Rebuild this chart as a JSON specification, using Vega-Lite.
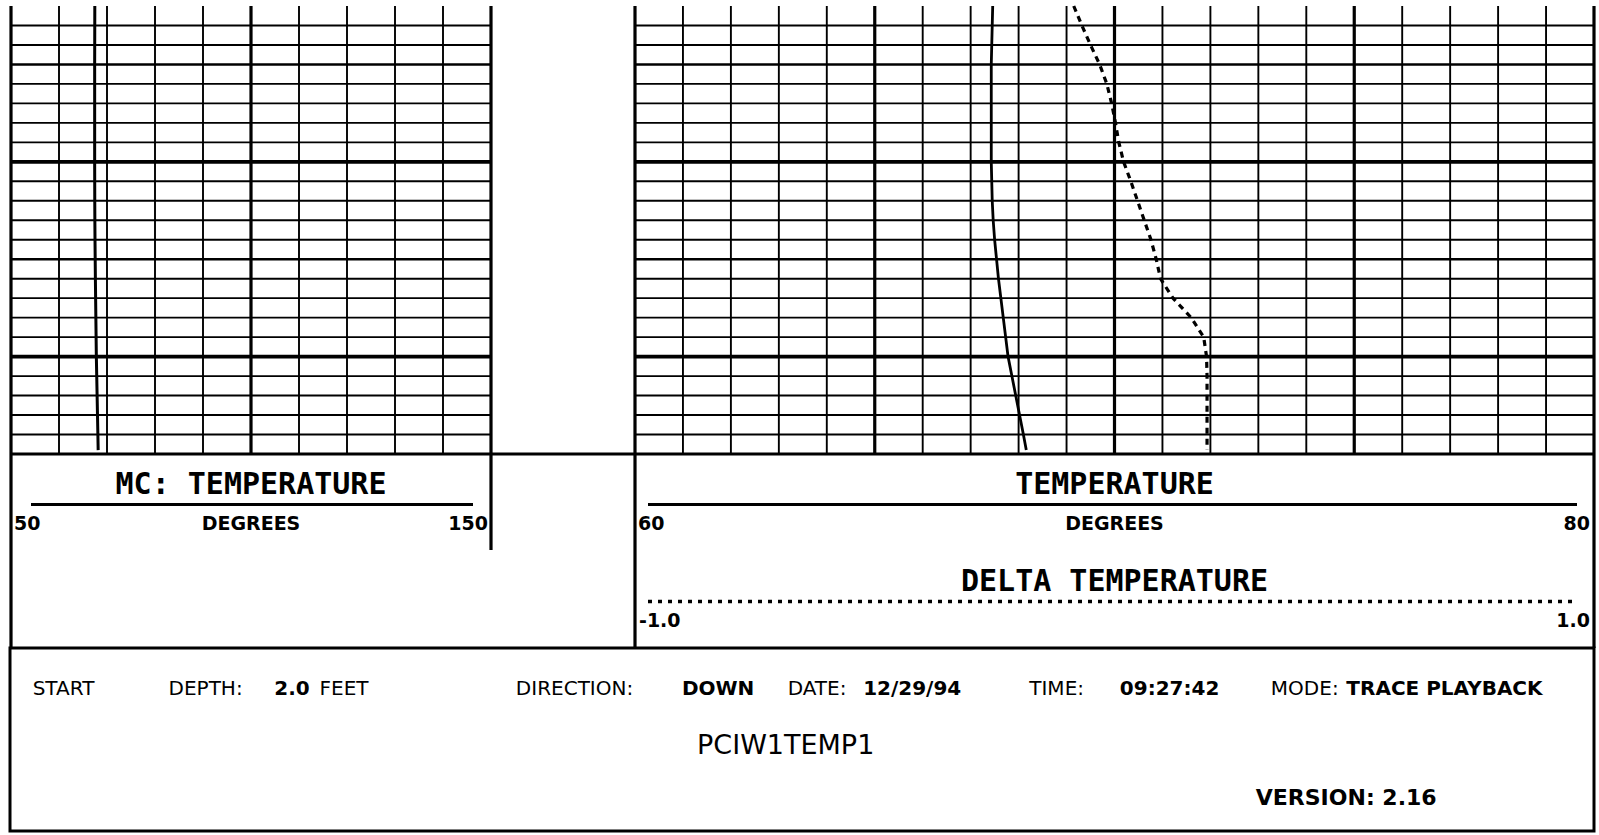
{
  "$schema": "https://vega.github.io/schema/vega-lite/v6.json",
  "width": 1599,
  "height": 835,
  "padding": 0,
  "autosize": {"type": "none"},
  "background": "white",
  "config": {
    "view": {"stroke": null},
    "axis": {"disable": true},
    "legend": {"disable": true},
    "font": "DejaVu Sans"
  },
  "datasets": {
    "log": [
      {"depth": 2.0, "temp": 67.46, "delta": -0.085},
      {"depth": 3, "temp": 67.45, "delta": -0.068},
      {"depth": 4, "temp": 67.44, "delta": -0.05},
      {"depth": 5, "temp": 67.43, "delta": -0.031},
      {"depth": 6, "temp": 67.43, "delta": -0.016},
      {"depth": 7, "temp": 67.43, "delta": -0.006},
      {"depth": 8, "temp": 67.43, "delta": 0.002},
      {"depth": 9, "temp": 67.43, "delta": 0.009},
      {"depth": 10, "temp": 67.43, "delta": 0.019},
      {"depth": 11, "temp": 67.44, "delta": 0.034},
      {"depth": 12, "temp": 67.45, "delta": 0.048},
      {"depth": 13, "temp": 67.47, "delta": 0.062},
      {"depth": 14, "temp": 67.5, "delta": 0.076},
      {"depth": 15, "temp": 67.54, "delta": 0.087},
      {"depth": 16, "temp": 67.58, "delta": 0.096},
      {"depth": 17, "temp": 67.63, "delta": 0.122},
      {"depth": 18, "temp": 67.68, "delta": 0.16},
      {"depth": 19, "temp": 67.73, "delta": 0.186},
      {"depth": 20, "temp": 67.78, "delta": 0.192},
      {"depth": 21, "temp": 67.86, "delta": 0.193},
      {"depth": 22, "temp": 67.94, "delta": 0.193},
      {"depth": 23, "temp": 68.02, "delta": 0.193},
      {"depth": 24, "temp": 68.1, "delta": 0.193},
      {"depth": 24.8, "temp": 68.16, "delta": 0.193}
    ],
    "depthLines": [
      {"depth": 3}, {"depth": 4}, {"depth": 5}, {"depth": 6}, {"depth": 7}, {"depth": 8},
      {"depth": 9}, {"depth": 10}, {"depth": 11}, {"depth": 12}, {"depth": 13}, {"depth": 14},
      {"depth": 15}, {"depth": 16}, {"depth": 17}, {"depth": 18}, {"depth": 19}, {"depth": 20},
      {"depth": 21}, {"depth": 22}, {"depth": 23}, {"depth": 24}, {"depth": 25}
    ],
    "mcLines": [
      {"deg": 50}, {"deg": 60}, {"deg": 70}, {"deg": 80}, {"deg": 90}, {"deg": 100},
      {"deg": 110}, {"deg": 120}, {"deg": 130}, {"deg": 140}, {"deg": 150}
    ],
    "tempLines": [
      {"deg": 60}, {"deg": 61}, {"deg": 62}, {"deg": 63}, {"deg": 64}, {"deg": 65}, {"deg": 66},
      {"deg": 67}, {"deg": 68}, {"deg": 69}, {"deg": 70}, {"deg": 71}, {"deg": 72}, {"deg": 73},
      {"deg": 74}, {"deg": 75}, {"deg": 76}, {"deg": 77}, {"deg": 78}, {"deg": 79}, {"deg": 80}
    ],
    "leftHeader": [
      {"label": "MC: TEMPERATURE", "deg": 100, "line": 1, "role": "title"},
      {"label": "DEGREES", "deg": 100, "line": 3, "role": "units"},
      {"label": "50", "deg": 50, "line": 3, "role": "min"},
      {"label": "150", "deg": 150, "line": 3, "role": "max"}
    ],
    "rightHeader": [
      {"label": "TEMPERATURE", "deg": 70, "line": 1, "role": "title"},
      {"label": "DEGREES", "deg": 70, "line": 3, "role": "units"},
      {"label": "60", "deg": 60, "line": 3, "role": "min"},
      {"label": "80", "deg": 80, "line": 3, "role": "max"}
    ],
    "deltaHeader": [
      {"label": "DELTA TEMPERATURE", "delta": 0, "line": 6, "role": "title"},
      {"label": "-1.0", "delta": -1, "line": 8, "role": "min"},
      {"label": "1.0", "delta": 1, "line": 8, "role": "max"}
    ],
    "infoLabels": [
      {"label": "START", "col": 1, "line": 1},
      {"label": "DEPTH:", "col": 10, "line": 1},
      {"label": "FEET", "col": 20, "line": 1},
      {"label": "DIRECTION:", "col": 33, "line": 1},
      {"label": "DATE:", "col": 51, "line": 1},
      {"label": "TIME:", "col": 67, "line": 1},
      {"label": "MODE:", "col": 83, "line": 1}
    ],
    "infoValues": [
      {"label": "2.0", "col": 17, "line": 1},
      {"label": "DOWN", "col": 44, "line": 1},
      {"label": "12/29/94", "col": 56, "line": 1},
      {"label": "09:27:42", "col": 73, "line": 1},
      {"label": "TRACE PLAYBACK", "col": 88, "line": 1}
    ]
  },
  "resolve": {"scale": {"x": "independent", "y": "independent"}},
  "layer": [
    {
      "data": {"name": "depthLines"},
      "mark": {"type": "rule", "color": "black"},
      "encoding": {
        "y": {"field": "depth", "type": "quantitative", "scale": {"domain": [2, 25], "range": [6, 454], "nice": false, "zero": false}},
        "x": {"datum": 50, "type": "quantitative", "scale": {"domain": [50, 150], "range": [11, 491], "nice": false, "zero": false}},
        "x2": {"datum": 150},
        "strokeWidth": {"condition": [{"test": "datum.depth == 25", "value": 3}, {"test": "datum.depth % 10 == 0", "value": 3.6}, {"test": "datum.depth % 5 == 0", "value": 2.6}], "value": 1.9}
      }
    },
    {
      "data": {"name": "depthLines"},
      "mark": {"type": "rule", "color": "black"},
      "encoding": {
        "y": {"field": "depth", "type": "quantitative", "scale": {"domain": [2, 25], "range": [6, 454], "nice": false, "zero": false}},
        "x": {"datum": 60, "type": "quantitative", "scale": {"domain": [60, 80], "range": [635, 1594], "nice": false, "zero": false}},
        "x2": {"datum": 80},
        "strokeWidth": {"condition": [{"test": "datum.depth == 25", "value": 3}, {"test": "datum.depth % 10 == 0", "value": 3.6}, {"test": "datum.depth % 5 == 0", "value": 2.6}], "value": 1.9}
      }
    },
    {
      "data": {"values": [{"depth": 25}]},
      "mark": {"type": "rule", "color": "black", "strokeWidth": 3},
      "encoding": {
        "y": {"field": "depth", "type": "quantitative", "scale": {"domain": [2, 25], "range": [6, 454], "nice": false, "zero": false}},
        "x": {"datum": 150, "type": "quantitative", "scale": {"domain": [50, 150], "range": [11, 491], "nice": false, "zero": false}},
        "x2": {"datum": 180}
      }
    },
    {
      "data": {"name": "mcLines"},
      "mark": {"type": "rule", "color": "black"},
      "encoding": {
        "x": {"field": "deg", "type": "quantitative", "scale": {"domain": [50, 150], "range": [11, 491], "nice": false, "zero": false}},
        "y": {"datum": 2, "type": "quantitative", "scale": {"domain": [2, 25], "range": [6, 454], "nice": false, "zero": false}},
        "y2": {"datum": 25},
        "strokeWidth": {"condition": {"test": "datum.deg % 50 == 0", "value": 3.2}, "value": 1.9}
      }
    },
    {
      "data": {"name": "tempLines"},
      "mark": {"type": "rule", "color": "black"},
      "encoding": {
        "x": {"field": "deg", "type": "quantitative", "scale": {"domain": [60, 80], "range": [635, 1594], "nice": false, "zero": false}},
        "y": {"datum": 2, "type": "quantitative", "scale": {"domain": [2, 25], "range": [6, 454], "nice": false, "zero": false}},
        "y2": {"datum": 25},
        "strokeWidth": {"condition": {"test": "datum.deg % 5 == 0", "value": 3.2}, "value": 1.9}
      }
    },
    {
      "data": {"name": "log"},
      "mark": {"type": "line", "color": "black", "strokeWidth": 3},
      "encoding": {
        "x": {"field": "temp", "type": "quantitative", "scale": {"domain": [50, 150], "range": [11, 491], "nice": false, "zero": false}},
        "y": {"field": "depth", "type": "quantitative", "scale": {"domain": [2, 25], "range": [6, 454], "nice": false, "zero": false}},
        "order": {"field": "depth", "type": "quantitative"}
      }
    },
    {
      "data": {"name": "log"},
      "mark": {"type": "line", "color": "black", "strokeWidth": 2.8},
      "encoding": {
        "x": {"field": "temp", "type": "quantitative", "scale": {"domain": [60, 80], "range": [635, 1594], "nice": false, "zero": false}},
        "y": {"field": "depth", "type": "quantitative", "scale": {"domain": [2, 25], "range": [6, 454], "nice": false, "zero": false}},
        "order": {"field": "depth", "type": "quantitative"}
      }
    },
    {
      "data": {"name": "log"},
      "mark": {"type": "line", "color": "black", "strokeWidth": 3.2, "strokeDash": [6, 5]},
      "encoding": {
        "x": {"field": "delta", "type": "quantitative", "scale": {"domain": [-1, 1], "range": [635, 1594], "nice": false, "zero": false}},
        "y": {"field": "depth", "type": "quantitative", "scale": {"domain": [2, 25], "range": [6, 454], "nice": false, "zero": false}},
        "order": {"field": "depth", "type": "quantitative"}
      }
    },
    {
      "data": {"values": [{"deg": 50}]},
      "mark": {"type": "rule", "color": "black", "strokeWidth": 3.2},
      "encoding": {
        "x": {"field": "deg", "type": "quantitative", "scale": {"domain": [50, 150], "range": [11, 491], "nice": false, "zero": false}},
        "y": {"datum": -0.6, "type": "quantitative", "scale": {"domain": [-0.6, 9.4], "range": [454, 648], "nice": false, "zero": false}},
        "y2": {"datum": 9.4}
      }
    },
    {
      "data": {"values": [{"deg": 150}]},
      "mark": {"type": "rule", "color": "black", "strokeWidth": 3.2},
      "encoding": {
        "x": {"field": "deg", "type": "quantitative", "scale": {"domain": [50, 150], "range": [11, 491], "nice": false, "zero": false}},
        "y": {"datum": -0.6, "type": "quantitative", "scale": {"domain": [-0.6, 9.4], "range": [454, 648], "nice": false, "zero": false}},
        "y2": {"datum": 4.35}
      }
    },
    {
      "data": {"values": [{"deg": 60}, {"deg": 80}]},
      "mark": {"type": "rule", "color": "black", "strokeWidth": 3.2},
      "encoding": {
        "x": {"field": "deg", "type": "quantitative", "scale": {"domain": [60, 80], "range": [635, 1594], "nice": false, "zero": false}},
        "y": {"datum": -0.6, "type": "quantitative", "scale": {"domain": [-0.6, 9.4], "range": [454, 648], "nice": false, "zero": false}},
        "y2": {"datum": 9.4}
      }
    },
    {
      "data": {"values": [{"lo": 50, "hi": 150, "line": 2}]},
      "mark": {"type": "rule", "color": "black", "strokeWidth": 3, "xOffset": 20, "x2Offset": -18},
      "encoding": {
        "x": {"field": "lo", "type": "quantitative", "scale": {"domain": [50, 150], "range": [11, 491], "nice": false, "zero": false}},
        "x2": {"field": "hi"},
        "y": {"field": "line", "type": "quantitative", "scale": {"domain": [-0.6, 9.4], "range": [454, 648], "nice": false, "zero": false}}
      }
    },
    {
      "data": {"values": [{"lo": 60, "hi": 80, "line": 2}]},
      "mark": {"type": "rule", "color": "black", "strokeWidth": 3, "xOffset": 13, "x2Offset": -17},
      "encoding": {
        "x": {"field": "lo", "type": "quantitative", "scale": {"domain": [60, 80], "range": [635, 1594], "nice": false, "zero": false}},
        "x2": {"field": "hi"},
        "y": {"field": "line", "type": "quantitative", "scale": {"domain": [-0.6, 9.4], "range": [454, 648], "nice": false, "zero": false}}
      }
    },
    {
      "data": {"values": [{"lo": -1, "hi": 1, "line": 7}]},
      "mark": {"type": "rule", "color": "black", "strokeWidth": 3.5, "strokeDash": [4, 6], "xOffset": 13, "x2Offset": -22},
      "encoding": {
        "x": {"field": "lo", "type": "quantitative", "scale": {"domain": [-1, 1], "range": [635, 1594], "nice": false, "zero": false}},
        "x2": {"field": "hi"},
        "y": {"field": "line", "type": "quantitative", "scale": {"domain": [-0.6, 9.4], "range": [454, 648], "nice": false, "zero": false}}
      }
    },
    {
      "data": {"name": "leftHeader"},
      "transform": [{"filter": "datum.role == 'title'"}],
      "mark": {"type": "text", "font": "DejaVu Sans Mono", "fontWeight": "bold", "fontSize": 30, "align": "center", "baseline": "middle", "color": "black"},
      "encoding": {
        "x": {"field": "deg", "type": "quantitative", "scale": {"domain": [50, 150], "range": [11, 491], "nice": false, "zero": false}},
        "y": {"field": "line", "type": "quantitative", "scale": {"domain": [-0.6, 9.4], "range": [454, 648], "nice": false, "zero": false}},
        "text": {"field": "label"}
      }
    },
    {
      "data": {"name": "leftHeader"},
      "transform": [{"filter": "datum.role == 'units'"}],
      "mark": {"type": "text", "fontWeight": "bold", "fontSize": 19, "align": "center", "baseline": "middle", "color": "black"},
      "encoding": {
        "x": {"field": "deg", "type": "quantitative", "scale": {"domain": [50, 150], "range": [11, 491], "nice": false, "zero": false}},
        "y": {"field": "line", "type": "quantitative", "scale": {"domain": [-0.6, 9.4], "range": [454, 648], "nice": false, "zero": false}},
        "text": {"field": "label"}
      }
    },
    {
      "data": {"name": "leftHeader"},
      "transform": [{"filter": "datum.role == 'min'"}],
      "mark": {"type": "text", "fontWeight": "bold", "fontSize": 19, "align": "left", "baseline": "middle", "dx": 3, "color": "black"},
      "encoding": {
        "x": {"field": "deg", "type": "quantitative", "scale": {"domain": [50, 150], "range": [11, 491], "nice": false, "zero": false}},
        "y": {"field": "line", "type": "quantitative", "scale": {"domain": [-0.6, 9.4], "range": [454, 648], "nice": false, "zero": false}},
        "text": {"field": "label"}
      }
    },
    {
      "data": {"name": "leftHeader"},
      "transform": [{"filter": "datum.role == 'max'"}],
      "mark": {"type": "text", "fontWeight": "bold", "fontSize": 19, "align": "right", "baseline": "middle", "dx": -3, "color": "black"},
      "encoding": {
        "x": {"field": "deg", "type": "quantitative", "scale": {"domain": [50, 150], "range": [11, 491], "nice": false, "zero": false}},
        "y": {"field": "line", "type": "quantitative", "scale": {"domain": [-0.6, 9.4], "range": [454, 648], "nice": false, "zero": false}},
        "text": {"field": "label"}
      }
    },
    {
      "data": {"name": "rightHeader"},
      "transform": [{"filter": "datum.role == 'title'"}],
      "mark": {"type": "text", "font": "DejaVu Sans Mono", "fontWeight": "bold", "fontSize": 30, "align": "center", "baseline": "middle", "color": "black"},
      "encoding": {
        "x": {"field": "deg", "type": "quantitative", "scale": {"domain": [60, 80], "range": [635, 1594], "nice": false, "zero": false}},
        "y": {"field": "line", "type": "quantitative", "scale": {"domain": [-0.6, 9.4], "range": [454, 648], "nice": false, "zero": false}},
        "text": {"field": "label"}
      }
    },
    {
      "data": {"name": "rightHeader"},
      "transform": [{"filter": "datum.role == 'units'"}],
      "mark": {"type": "text", "fontWeight": "bold", "fontSize": 19, "align": "center", "baseline": "middle", "color": "black"},
      "encoding": {
        "x": {"field": "deg", "type": "quantitative", "scale": {"domain": [60, 80], "range": [635, 1594], "nice": false, "zero": false}},
        "y": {"field": "line", "type": "quantitative", "scale": {"domain": [-0.6, 9.4], "range": [454, 648], "nice": false, "zero": false}},
        "text": {"field": "label"}
      }
    },
    {
      "data": {"name": "rightHeader"},
      "transform": [{"filter": "datum.role == 'min'"}],
      "mark": {"type": "text", "fontWeight": "bold", "fontSize": 19, "align": "left", "baseline": "middle", "dx": 3, "color": "black"},
      "encoding": {
        "x": {"field": "deg", "type": "quantitative", "scale": {"domain": [60, 80], "range": [635, 1594], "nice": false, "zero": false}},
        "y": {"field": "line", "type": "quantitative", "scale": {"domain": [-0.6, 9.4], "range": [454, 648], "nice": false, "zero": false}},
        "text": {"field": "label"}
      }
    },
    {
      "data": {"name": "rightHeader"},
      "transform": [{"filter": "datum.role == 'max'"}],
      "mark": {"type": "text", "fontWeight": "bold", "fontSize": 19, "align": "right", "baseline": "middle", "dx": -4, "color": "black"},
      "encoding": {
        "x": {"field": "deg", "type": "quantitative", "scale": {"domain": [60, 80], "range": [635, 1594], "nice": false, "zero": false}},
        "y": {"field": "line", "type": "quantitative", "scale": {"domain": [-0.6, 9.4], "range": [454, 648], "nice": false, "zero": false}},
        "text": {"field": "label"}
      }
    },
    {
      "data": {"name": "deltaHeader"},
      "transform": [{"filter": "datum.role == 'title'"}],
      "mark": {"type": "text", "font": "DejaVu Sans Mono", "fontWeight": "bold", "fontSize": 30, "align": "center", "baseline": "middle", "color": "black"},
      "encoding": {
        "x": {"field": "delta", "type": "quantitative", "scale": {"domain": [-1, 1], "range": [635, 1594], "nice": false, "zero": false}},
        "y": {"field": "line", "type": "quantitative", "scale": {"domain": [-0.6, 9.4], "range": [454, 648], "nice": false, "zero": false}},
        "text": {"field": "label"}
      }
    },
    {
      "data": {"name": "deltaHeader"},
      "transform": [{"filter": "datum.role == 'min'"}],
      "mark": {"type": "text", "fontWeight": "bold", "fontSize": 19, "align": "left", "baseline": "middle", "dx": 4, "color": "black"},
      "encoding": {
        "x": {"field": "delta", "type": "quantitative", "scale": {"domain": [-1, 1], "range": [635, 1594], "nice": false, "zero": false}},
        "y": {"field": "line", "type": "quantitative", "scale": {"domain": [-0.6, 9.4], "range": [454, 648], "nice": false, "zero": false}},
        "text": {"field": "label"}
      }
    },
    {
      "data": {"name": "deltaHeader"},
      "transform": [{"filter": "datum.role == 'max'"}],
      "mark": {"type": "text", "fontWeight": "bold", "fontSize": 19, "align": "right", "baseline": "middle", "dx": -4, "color": "black"},
      "encoding": {
        "x": {"field": "delta", "type": "quantitative", "scale": {"domain": [-1, 1], "range": [635, 1594], "nice": false, "zero": false}},
        "y": {"field": "line", "type": "quantitative", "scale": {"domain": [-0.6, 9.4], "range": [454, 648], "nice": false, "zero": false}},
        "text": {"field": "label"}
      }
    },
    {
      "data": {"values": [{"left": -0.5, "right": 104.4, "top": -0.5, "bottom": 6.25}]},
      "mark": {"type": "rect", "filled": false, "stroke": "black", "strokeWidth": 3},
      "encoding": {
        "x": {"field": "left", "type": "quantitative", "scale": {"domain": [-0.5, 104.4], "range": [10, 1594], "nice": false, "zero": false}},
        "x2": {"field": "right"},
        "y": {"field": "top", "type": "quantitative", "scale": {"domain": [-0.5, 6.25], "range": [648, 831], "nice": false, "zero": false}},
        "y2": {"field": "bottom"}
      }
    },
    {
      "data": {"name": "infoLabels"},
      "mark": {"type": "text", "fontSize": 20, "align": "left", "baseline": "middle", "color": "black"},
      "encoding": {
        "x": {"field": "col", "type": "quantitative", "scale": {"domain": [-0.5, 104.4], "range": [10, 1594], "nice": false, "zero": false}},
        "y": {"field": "line", "type": "quantitative", "scale": {"domain": [-0.5, 6.25], "range": [648, 831], "nice": false, "zero": false}},
        "text": {"field": "label"}
      }
    },
    {
      "data": {"name": "infoValues"},
      "mark": {"type": "text", "fontSize": 20, "fontWeight": "bold", "align": "left", "baseline": "middle", "color": "black"},
      "encoding": {
        "x": {"field": "col", "type": "quantitative", "scale": {"domain": [-0.5, 104.4], "range": [10, 1594], "nice": false, "zero": false}},
        "y": {"field": "line", "type": "quantitative", "scale": {"domain": [-0.5, 6.25], "range": [648, 831], "nice": false, "zero": false}},
        "text": {"field": "label"}
      }
    },
    {
      "data": {"values": [{"label": "PCIW1TEMP1", "col": 45, "line": 3}]},
      "mark": {"type": "text", "fontSize": 27, "align": "left", "baseline": "middle", "dy": 3, "color": "black"},
      "encoding": {
        "x": {"field": "col", "type": "quantitative", "scale": {"domain": [-0.5, 104.4], "range": [10, 1594], "nice": false, "zero": false}},
        "y": {"field": "line", "type": "quantitative", "scale": {"domain": [-0.5, 6.25], "range": [648, 831], "nice": false, "zero": false}},
        "text": {"field": "label"}
      }
    },
    {
      "data": {"values": [{"label": "VERSION: 2.16", "col": 82, "line": 5}]},
      "mark": {"type": "text", "fontSize": 22, "fontWeight": "bold", "align": "left", "baseline": "middle", "dy": 1, "color": "black"},
      "encoding": {
        "x": {"field": "col", "type": "quantitative", "scale": {"domain": [-0.5, 104.4], "range": [10, 1594], "nice": false, "zero": false}},
        "y": {"field": "line", "type": "quantitative", "scale": {"domain": [-0.5, 6.25], "range": [648, 831], "nice": false, "zero": false}},
        "text": {"field": "label"}
      }
    }
  ]
}
